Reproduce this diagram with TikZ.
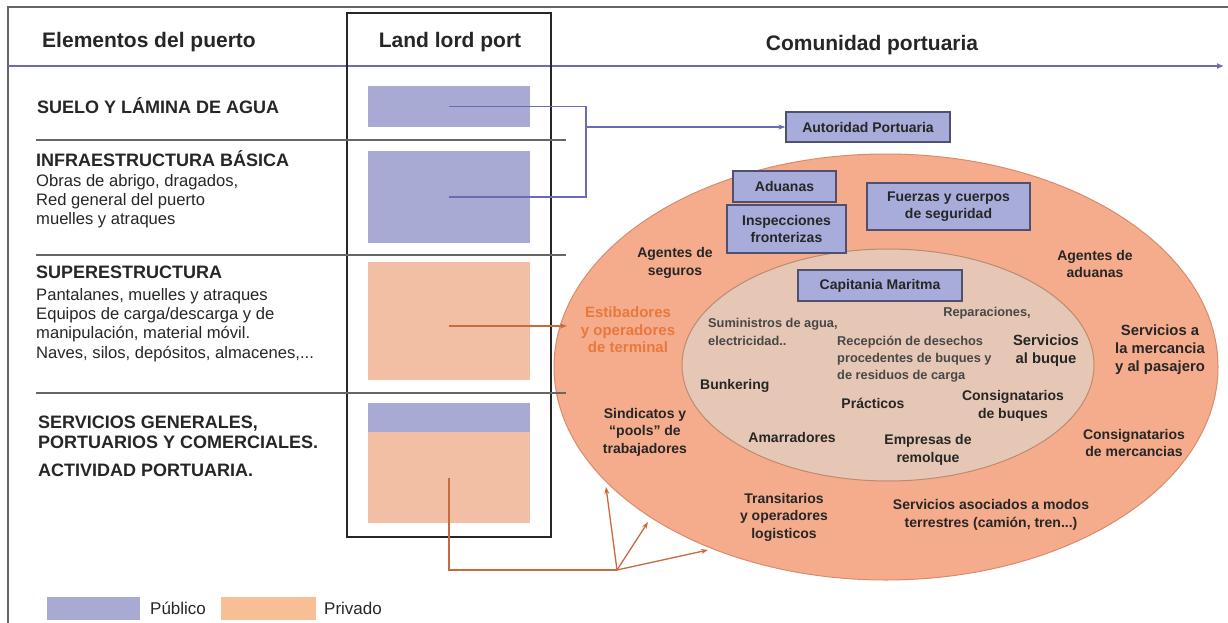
\documentclass[tikz,border=0pt]{standalone}
\usepackage{fontspec}
\setmainfont{Liberation Sans}
\usetikzlibrary{arrows.meta,shapes.geometric}
\definecolor{txt}{HTML}{262626}
\definecolor{pubblue}{HTML}{A9AAD4}
\definecolor{privor}{HTML}{F3BFA4}
\definecolor{legor}{HTML}{F8BE96}
\definecolor{outerfill}{HTML}{F5AC8D}
\definecolor{outerline}{HTML}{D98B6A}
\definecolor{innerfill}{HTML}{E6C7B5}
\definecolor{innerline}{HTML}{B98C70}
\definecolor{boxline}{HTML}{4F4F6F}
\definecolor{boxfill}{HTML}{A8ACDA}
\definecolor{blueline}{HTML}{6B6BB5}
\definecolor{orline}{HTML}{C76A3E}
\definecolor{ortext}{HTML}{E8783C}
\definecolor{frame}{HTML}{666666}
\tikzset{
  hdr/.style={font=\fontsize{21}{24}\selectfont\bfseries, text=txt, inner sep=0pt},
  lhead/.style={anchor=west, font=\fontsize{18}{19}\selectfont\bfseries, text=txt, inner sep=0pt},
  lbody/.style={anchor=west, font=\fontsize{16.6}{19.2}\selectfont, text=txt, align=left, inner sep=0pt},
  lbl/.style={font=\fontsize{14}{17.5}\selectfont\bfseries, text=txt, align=center, inner sep=0pt},
  bigl/.style={font=\fontsize{14.8}{18}\selectfont\bfseries, text=txt, align=center, inner sep=0pt},
  ilbl/.style={font=\fontsize{12.8}{17.2}\selectfont\bfseries, text=txt!85, align=left, inner sep=0pt},
  pbox/.style={draw=boxline, fill=boxfill, line width=1.3pt, font=\fontsize{14}{16.5}\selectfont\bfseries, text=txt, align=center, inner sep=0pt},
  prect/.style={fill=pubblue, inner sep=0pt, minimum width=162pt},
  orect/.style={fill=privor, inner sep=0pt, minimum width=162pt},
  sep/.style={draw=frame, line width=1.6pt},
  bline/.style={draw=blueline, line width=1.3pt},
  oline/.style={draw=orline, line width=1.3pt},
  tip/.style={-{Stealth[length=7pt,width=5pt]}},
}
\begin{document}
\begin{tikzpicture}[x=1pt,y=-1pt]
\useasboundingbox (0,0) rectangle (1228,623);
% frame
\draw[frame, line width=1.8pt] (8,623) -- (8,7) -- (1228,7);

% ellipses
\node[ellipse, draw=outerline, fill=outerfill, line width=1pt, minimum width=664pt, minimum height=426pt, inner sep=0pt] (outer) at (886,367) {};
\node[ellipse, draw=innerline, fill=innerfill, line width=1pt, minimum width=412pt, minimum height=232pt, inner sep=0pt] (inner) at (888,365) {};

% headers
\node[hdr] (h1) at (149,42) {Elementos del puerto};
\node[hdr] (h2) at (450,42) {Land lord port};
\node[hdr] (h3) at (872,45) {Comunidad portuaria};

% axis arrow
\coordinate (ax0) at (8,66);
\coordinate (ax1) at (1224,66);
\draw[bline, line width=1.5pt, -{Latex[length=7pt,width=6pt]}] (ax0) -- (ax1);

% land lord box
\draw[black!85, line width=1.3pt] (347,13) rectangle (551,537);

% separators
\draw[sep] (36,140) -- (566,140);
\draw[sep] (36,255) -- (566,255);
\draw[sep] (36,393) -- (566,393);

% left texts
\node[lhead] (t1) at (37,106) {SUELO Y LÁMINA DE AGUA};
\node[lhead] (t2) at (36,159) {INFRAESTRUCTURA BÁSICA};
\node[lbody] (t2b) at (36,201) {Obras de abrigo, dragados,\\Red general del puerto\\muelles y atraques};
\node[lhead] (t3) at (36,272) {SUPERESTRUCTURA};
\node[lbody] (t3b) at (36,325) {Pantalanes, muelles y atraques\\Equipos de carga/descarga y de\\manipulación, material móvil.\\Naves, silos, depósitos, almacenes,...};
\node[lhead, align=left, font=\fontsize{18}{19.5}\selectfont\bfseries] (t4) at (38,432.5) {SERVICIOS GENERALES,\\PORTUARIOS Y COMERCIALES.};
\node[lhead] (t5) at (38,470) {ACTIVIDAD PORTUARIA.};

% left rectangles
\node[prect, minimum height=41pt] (r1) at (449,106.5) {};
\node[prect, minimum height=92pt] (r2) at (449,197) {};
\node[orect, minimum height=118pt] (r3) at (449,321) {};
\node[prect, minimum height=29pt] (r4a) at (449,417.5) {};
\node[orect, minimum height=91pt] (r4b) at (449,477.5) {};

% boxes
\node[pbox, minimum width=164pt, minimum height=30pt] (auto) at (868,127) {Autoridad Portuaria};
\node[pbox, minimum width=103pt, minimum height=31pt] (adu) at (784.5,186.5) {Aduanas};
\node[pbox, minimum width=119pt, minimum height=48pt] (insp) at (786.5,229) {Inspecciones\\fronterizas};
\node[pbox, minimum width=163pt, minimum height=47pt] (fuer) at (948.5,206.5) {Fuerzas y cuerpos\\de seguridad};
\node[pbox, minimum width=164pt, minimum height=31pt] (cap) at (880,285.5) {Capitania Maritma};

% outer ring labels
\node[lbl] (ags) at (675,263) {Agentes de\\seguros};
\node[lbl, text=ortext, font=\fontsize{15}{17.5}\selectfont\bfseries] (estib) at (628,330) {Estibadores\\y operadores\\de terminal};
\node[lbl] (aga) at (1095,264) {Agentes de\\aduanas};
\node[bigl] (smer) at (1160,350) {Servicios a\\la mercancia\\y al pasajero};
\node[lbl] (sind) at (645,432) {Sindicatos y\\“pools” de\\trabajadores};
\node[lbl] (trans) at (784,517) {Transitarios\\y operadores\\logisticos};
\node[lbl] (sam) at (991,515) {Servicios asociados a modos\\terrestres (camión, tren...)};
\node[lbl] (cmer) at (1134,443) {Consignatarios\\de mercancias};

% inner labels
\node[ilbl, anchor=west] (sum) at (708,332) {Suministros de agua,\\electricidad..};
\node[ilbl] (rep) at (987,313) {Reparaciones,};
\node[ilbl, anchor=west] (rec) at (837,359) {Recepción de desechos\\procedentes de buques y\\de residuos de carga};
\node[bigl] (sbu) at (1046,351) {Servicios\\al buque};
\node[lbl, anchor=west] (bunk) at (700,386) {Bunkering};
\node[lbl] (prac) at (873,403) {Prácticos};
\node[lbl] (cbu) at (1013,406) {Consignatarios\\de buques};
\node[lbl] (amar) at (792,437) {Amarradores};
\node[lbl] (empr) at (928,450) {Empresas de\\remolque};

% connectors (blue)
\coordinate (j1) at (586,106.5);
\coordinate (j2) at (586,197);
\coordinate (j3) at (586,127);
\draw[bline] (r1.center) -- (j1) -- (j2) -- (r2.center);
\draw[bline, tip] (j3) -- (auto.west);

% connectors (orange)
\coordinate (etip) at (567,326);
\draw[oline, tip] (r3.center |- etip) -- (etip);
\coordinate (k1) at (449,570);
\coordinate (k2) at (617,570);
\coordinate (p1) at (606,487);
\coordinate (p2) at (648,522);
\coordinate (p3) at (708,550);
\draw[oline] (r4b.center) -- (k1) -- (k2);
\draw[oline, tip] (k2) -- (p1);
\draw[oline, tip] (k2) -- (p2);
\draw[oline, tip] (k2) -- (p3);

% legend
\node[fill=pubblue, minimum width=93pt, minimum height=23pt, inner sep=0pt] (lg1) at (93.5,608.5) {};
\node[anchor=west, font=\fontsize{17}{18}\selectfont, text=txt, inner sep=0pt] (lg1t) at (150,608) {Público};
\node[fill=legor, minimum width=95pt, minimum height=23pt, inner sep=0pt] (lg2) at (268.5,608.5) {};
\node[anchor=west, font=\fontsize{17}{18}\selectfont, text=txt, inner sep=0pt] (lg2t) at (324,608) {Privado};
\end{tikzpicture}
\end{document}
